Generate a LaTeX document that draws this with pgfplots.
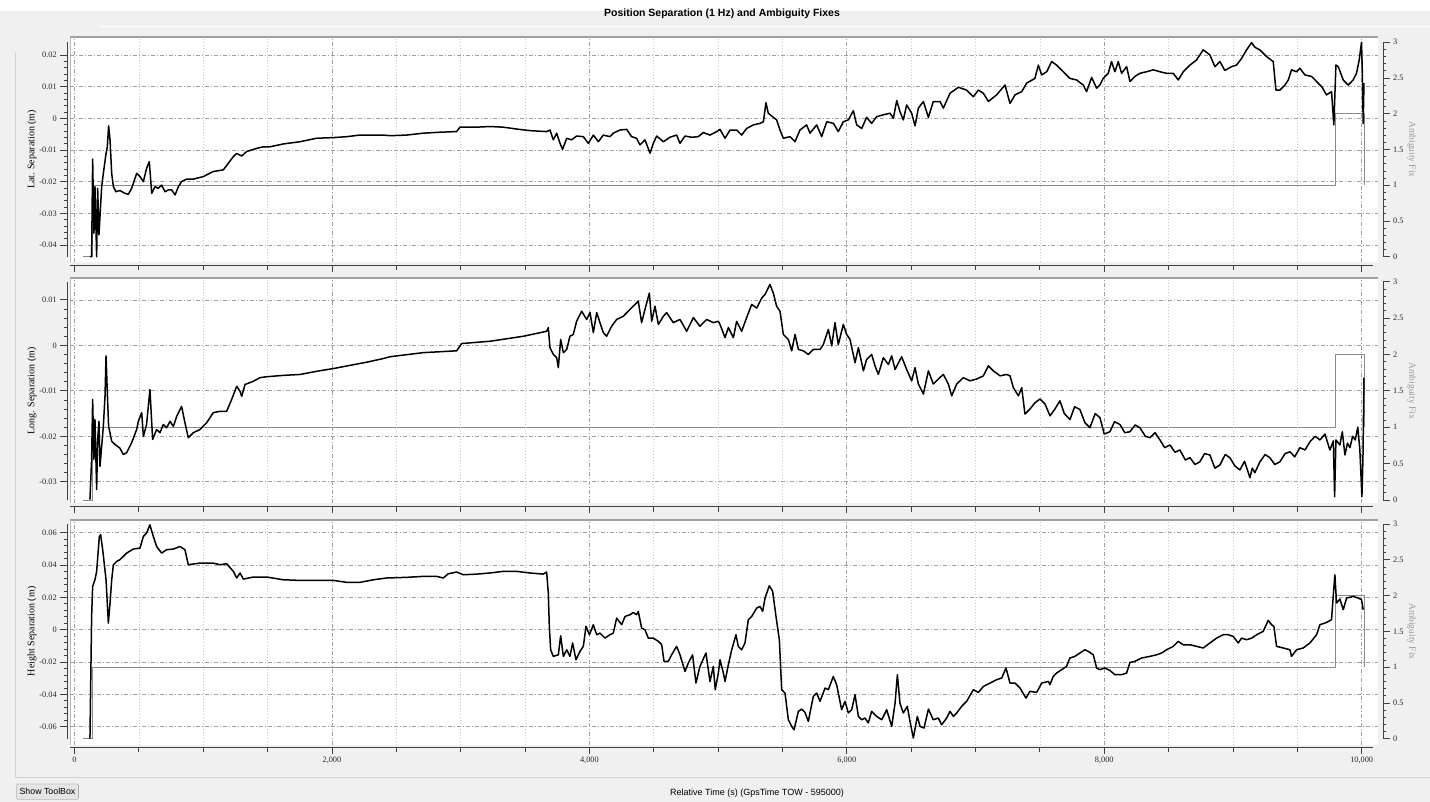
\documentclass[border=0pt]{standalone}
\usepackage{fontspec}
\setmainfont{Liberation Serif}
\newfontfamily\sansf{Liberation Sans}
\usepackage{pgfplots}
\pgfplotsset{compat=1.18}
\definecolor{bg}{HTML}{F0F0F0}
\definecolor{gridc}{HTML}{A0A0A0}
\definecolor{mgridc}{HTML}{C8C8C8}
\definecolor{fixc}{HTML}{8A8A8A}
\definecolor{axc}{HTML}{404040}
\definecolor{framec}{HTML}{A0A0A0}

\pgfplotsset{
  every axis/.append style={scaled ticks=false},
  canvasax/.style={scale only axis, width=1308pt, height=225pt, anchor=south west,
     xmin=-35, xmax=10127,
     axis line style={draw=none}, tick style={draw=none},
     xtick={0,2000,4000,6000,8000,10000}, xticklabels={,,,,,}, minor x tick num=3,
     xmajorgrids, xminorgrids, ymajorgrids,
     major grid style={gridc, line width=0.7pt, dash pattern=on 4pt off 2pt on 1pt off 2pt},
     minor grid style={mgridc, line width=0.7pt, dash pattern=on 1.2pt off 1.8pt}},
  fixax/.style={scale only axis, width=1308pt, height=225pt, anchor=south west,
     xmin=-35, xmax=10127, hide axis},
  lscale/.style={scale only axis, width=1pt, anchor=south west, xmin=0, xmax=1,
     axis y line=left, axis x line=none, xtick=\empty,
     axis line style={-, axc, line width=0.8pt}, tick style={axc, line width=0.8pt},
     tick align=outside, major tick length=6.7pt, minor tick length=3.3pt, minor y tick num=4,
     yticklabel style={font=\fontsize{8.3}{9}\selectfont, text=black!85},
     ylabel style={font=\fontsize{10}{12}\selectfont, at={(axis description cs:-35,0.5)}, anchor=center}},
  rscale/.style={scale only axis, width=1pt, anchor=south east, xmin=0, xmax=1, ymin=0, ymax=3,
     axis y line=right, axis x line=none, xtick=\empty,
     axis line style={-, axc, line width=0.8pt}, tick style={axc, line width=0.8pt},
     tick align=outside, major tick length=6.7pt, minor tick length=3.3pt, minor y tick num=4,
     ytick={0,0.5,1,1.5,2,2.5,3}, yticklabels={0,0.5,1,1.5,2,2.5,3},
     yticklabel style={font=\fontsize{8.3}{9}\selectfont, text=black!85},
     ylabel={Ambiguity Fix},
     ylabel style={font=\fontsize{9.5}{11}\selectfont, text=gray!80, at={(axis description cs:29.7,0.5)}, anchor=center, rotate=180}},
  bscale/.style={scale only axis, width=1303pt, height=1pt, anchor=south west,
     xmin=-35, xmax=10088, ymin=0, ymax=1,
     axis x line=bottom, axis y line=none, ytick=\empty,
     xtick={0,2000,4000,6000,8000,10000}, minor x tick num=3,
     tick align=outside, major tick length=6.7pt, minor tick length=5pt,
     axis line style={-, axc, line width=0.8pt}, tick style={axc, line width=0.8pt},
     xticklabel style={font=\fontsize{8.3}{9}\selectfont, text=black!85}},
  dataline/.style={black, line width=1.5pt, line join=round},
  fixline/.style={fixc, line width=0.9pt},
}

\begin{document}
\begin{tikzpicture}[x=1pt,y=1pt]
\useasboundingbox (0,0) rectangle (1430,802);
\fill[bg] (0,0) rectangle (1430,802);
\fill[white] (0,791) rectangle (1430,802);
\draw[white, line width=1pt] (100,775) -- (1430,775);
\draw[black!18, line width=0.8pt] (15,25) -- (1430,25);
\draw[black!18, line width=0.8pt] (15,25) -- (15,750);
% canvases
\fill[white] (70,540) rectangle (1378,765);
\fill[white] (70,299) rectangle (1378,524);
\fill[white] (70,57) rectangle (1378,282);
\foreach \yb in {540,299,57} {
  \draw[framec, line width=1.6pt] (70,\yb+225) -- (1378,\yb+225);
  \draw[framec!70, line width=0.8pt] (70,\yb) -- (70,\yb+225);
}

% ================= Panel 1: Lat =================
\begin{axis}[fixax, at={(70pt,540pt)}, ymin=-0.0742, ymax=3.0742]
\addplot[fixline] coordinates {(66,0) (136,0) (136,1) (9798,1) (9798,2) (10023,2) (10023,1)};
\end{axis}
\begin{axis}[canvasax, at={(70pt,540pt)}, ymin=-0.04537, ymax=0.02567,
   ytick={-0.04,-0.03,-0.02,-0.01,0,0.01,0.02}, yticklabels={,,,,,,}]
\addplot[dataline] coordinates {
(120,-0.0437) (133,-0.0437) (141,-0.0129) (151,-0.0363) (159,-0.0216) (172,-0.0437) (180,-0.0221)
(190,-0.0368) (198,-0.0310) (211,-0.0216) (224,-0.0174) (245,-0.0111) (255,-0.0090) (265,-0.0024)
(276,-0.0068) (289,-0.0174) (302,-0.0216) (322,-0.0232) (353,-0.0228) (392,-0.0237) (418,-0.0240)
(444,-0.0221) (483,-0.0174) (509,-0.0184) (535,-0.0200) (560,-0.0158) (581,-0.0137) (600,-0.0237)
(625,-0.0216) (651,-0.0221) (677,-0.0211) (703,-0.0232) (729,-0.0226) (755,-0.0226) (781,-0.0242)
(807,-0.0216) (832,-0.0200) (871,-0.0192) (923,-0.0192) (1001,-0.0184) (1078,-0.0168) (1156,-0.0163)
(1195,-0.0142) (1234,-0.0121) (1260,-0.0111) (1299,-0.0119) (1337,-0.0105) (1376,-0.0100) (1415,-0.0095)
(1467,-0.0090) (1519,-0.0090) (1622,-0.0081) (1752,-0.0074) (1881,-0.0063) (2011,-0.0061) (2115,-0.0058)
(2218,-0.0053) (2399,-0.0053) (2451,-0.0055) (2580,-0.0053) (2710,-0.0047) (2839,-0.0044) (2969,-0.0042)
(2995,-0.0028) (3124,-0.0028) (3228,-0.0026) (3331,-0.0028) (3435,-0.0034) (3539,-0.0039) (3668,-0.0042)
(3694,-0.0037) (3720,-0.0068) (3746,-0.0047) (3772,-0.0079) (3792,-0.0098) (3824,-0.0063) (3862,-0.0068)
(3901,-0.0056) (3953,-0.0058) (3992,-0.0079) (4031,-0.0053) (4070,-0.0074) (4108,-0.0053) (4160,-0.0058)
(4186,-0.0047) (4238,-0.0037) (4290,-0.0035) (4328,-0.0058) (4367,-0.0063) (4393,-0.0084) (4432,-0.0068)
(4471,-0.0110) (4497,-0.0079) (4523,-0.0056) (4575,-0.0074) (4626,-0.0060) (4678,-0.0053) (4704,-0.0079)
(4743,-0.0056) (4795,-0.0060) (4846,-0.0058) (4885,-0.0045) (4937,-0.0053) (4989,-0.0042) (5015,-0.0035)
(5054,-0.0063) (5093,-0.0037) (5144,-0.0037) (5183,-0.0053) (5222,-0.0032) (5274,-0.0021) (5326,-0.0016)
(5352,-0.0011) (5372,0.0049) (5390,0.0016) (5429,0.0003) (5455,-0.0005) (5481,-0.0037) (5507,-0.0063)
(5559,-0.0058) (5598,-0.0074) (5636,-0.0037) (5688,-0.0021) (5714,-0.0047) (5766,-0.0021) (5805,-0.0058)
(5844,-0.0011) (5896,-0.0016) (5934,-0.0042) (5973,-0.0011) (6012,-0.0005) (6051,0.0024) (6077,-0.0021)
(6116,-0.0032) (6154,0.0003) (6193,-0.0016) (6232,0.0005) (6284,0.0011) (6336,0.0016) (6362,0.0000)
(6388,0.0056) (6413,0.0021) (6439,-0.0005) (6465,0.0042) (6504,0.0016) (6530,-0.0024) (6556,0.0032)
(6595,0.0053) (6634,0.0003) (6672,0.0053) (6724,0.0053) (6750,0.0032) (6802,0.0079) (6867,0.0098)
(6931,0.0089) (6983,0.0068) (7022,0.0089) (7061,0.0079) (7100,0.0053) (7164,0.0074) (7229,0.0105)
(7268,0.0047) (7307,0.0074) (7359,0.0084) (7397,0.0111) (7462,0.0126) (7488,0.0168) (7514,0.0137)
(7553,0.0147) (7592,0.0179) (7630,0.0168) (7682,0.0147) (7733,0.0126) (7785,0.0121) (7837,0.0105)
(7863,0.0084) (7902,0.0129) (7941,0.0095) (7966,0.0105) (7992,0.0126) (8031,0.0142) (8057,0.0179)
(8083,0.0147) (8109,0.0179) (8135,0.0142) (8174,0.0163) (8200,0.0116) (8238,0.0132) (8277,0.0142)
(8329,0.0147) (8381,0.0153) (8433,0.0147) (8484,0.0142) (8536,0.0142) (8575,0.0121) (8614,0.0147)
(8666,0.0168) (8717,0.0184) (8769,0.0216) (8821,0.0200) (8860,0.0163) (8899,0.0179) (8937,0.0151)
(8989,0.0163) (9028,0.0168) (9067,0.0189) (9106,0.0216) (9145,0.0239) (9171,0.0224) (9209,0.0216)
(9261,0.0195) (9313,0.0179) (9334,0.0089) (9365,0.0089) (9404,0.0105) (9430,0.0121) (9455,0.0153)
(9494,0.0147) (9520,0.0158) (9559,0.0137) (9611,0.0132) (9650,0.0116) (9689,0.0100) (9727,0.0074)
(9766,0.0084) (9784,-0.0021) (9800,0.0168) (9818,0.0163) (9857,0.0121) (9896,0.0105) (9934,0.0121)
(9960,0.0142) (9981,0.0184) (9999,0.0240) (10005,0.0150) (10012,-0.0016) (10018,0.0111)
};
\end{axis}
\begin{axis}[lscale, at={(67pt,545.3pt)}, height=214.4pt, ymin=-0.0437, ymax=0.024,
   ytick={-0.04,-0.03,-0.02,-0.01,0,0.01,0.02}, yticklabels={-0.04,-0.03,-0.02,-0.01,0,0.01,0.02},
   ylabel={Lat. Separation (m)}]
\end{axis}
\begin{axis}[rscale, at={(1383pt,545.3pt)}, height=214.4pt]
\end{axis}
\begin{axis}[bscale, at={(70pt,537pt)}, xticklabels={,,,,,}]
\end{axis}

% ================= Panel 2: Long =================
\begin{axis}[fixax, at={(70pt,299pt)}, ymin=-0.0412, ymax=3.0508]
\addplot[fixline] coordinates {(66,0) (136,0) (136,1) (9798,1) (9798,2) (10023,2) (10023,1)};
\end{axis}
\begin{axis}[canvasax, at={(70pt,299pt)}, ymin=-0.03466, ymax=0.014814,
   ytick={-0.03,-0.02,-0.01,0,0.01}, yticklabels={,,,,}]
\addplot[dataline] coordinates {
(120,-0.0339) (133,-0.0251) (141,-0.0119) (151,-0.0251) (159,-0.0163) (172,-0.0317) (180,-0.0207)
(190,-0.0167) (198,-0.0266) (211,-0.0222) (224,-0.0178) (237,-0.0112) (245,-0.0023) (255,-0.0104)
(265,-0.0178) (289,-0.0211) (315,-0.0218) (353,-0.0226) (379,-0.0240) (405,-0.0236) (444,-0.0214)
(483,-0.0185) (496,-0.0167) (522,-0.0148) (535,-0.0200) (560,-0.0174) (586,-0.0097) (607,-0.0207)
(638,-0.0185) (664,-0.0192) (690,-0.0174) (716,-0.0181) (742,-0.0167) (768,-0.0178) (794,-0.0156)
(832,-0.0134) (858,-0.0170) (884,-0.0203) (923,-0.0192) (975,-0.0185) (1027,-0.0170) (1078,-0.0148)
(1130,-0.0145) (1182,-0.0145) (1221,-0.0119) (1260,-0.0090) (1286,-0.0101) (1299,-0.0112) (1325,-0.0086)
(1389,-0.0079) (1441,-0.0071) (1493,-0.0069) (1622,-0.0066) (1752,-0.0064) (1881,-0.0057) (2011,-0.0051)
(2140,-0.0044) (2270,-0.0037) (2399,-0.0029) (2451,-0.0025) (2710,-0.0016) (2969,-0.0012) (3008,0.0004)
(3228,0.0009) (3487,0.0020) (3668,0.0031) (3681,0.0039) (3694,-0.0005) (3720,-0.0020) (3746,-0.0027)
(3759,-0.0049) (3777,0.0013) (3798,-0.0016) (3824,-0.0009) (3849,0.0020) (3875,0.0024) (3901,0.0053)
(3940,0.0075) (3979,0.0057) (4005,0.0072) (4031,0.0028) (4057,0.0072) (4108,0.0028) (4134,0.0020)
(4173,0.0042) (4212,0.0057) (4264,0.0064) (4315,0.0079) (4380,0.0097) (4406,0.0050) (4432,0.0079)
(4466,0.0115) (4484,0.0053) (4510,0.0086) (4536,0.0046) (4575,0.0064) (4600,0.0072) (4652,0.0050)
(4704,0.0057) (4756,0.0031) (4808,0.0061) (4859,0.0042) (4911,0.0057) (4963,0.0050) (5002,0.0053)
(5015,0.0046) (5054,0.0017) (5080,0.0039) (5119,0.0017) (5144,0.0053) (5183,0.0031) (5222,0.0061)
(5261,0.0090) (5300,0.0082) (5339,0.0104) (5365,0.0112) (5403,0.0134) (5429,0.0115) (5455,0.0086)
(5481,0.0075) (5507,0.0024) (5546,0.0013) (5572,-0.0012) (5598,0.0024) (5624,-0.0009) (5662,-0.0012)
(5701,-0.0020) (5740,-0.0009) (5792,-0.0009) (5818,0.0002) (5857,0.0035) (5883,-0.0001) (5908,0.0050)
(5934,0.0002) (5973,0.0046) (5999,0.0024) (6025,0.0013) (6064,-0.0038) (6090,-0.0005) (6129,-0.0056)
(6154,-0.0031) (6193,-0.0020) (6219,-0.0045) (6245,-0.0064) (6284,-0.0027) (6323,-0.0042) (6349,-0.0023)
(6375,-0.0053) (6426,-0.0025) (6465,-0.0053) (6504,-0.0078) (6530,-0.0049) (6556,-0.0085) (6595,-0.0107)
(6634,-0.0056) (6672,-0.0085) (6711,-0.0074) (6750,-0.0064) (6789,-0.0085) (6815,-0.0111) (6854,-0.0085)
(6905,-0.0071) (6957,-0.0078) (7009,-0.0074) (7061,-0.0067) (7100,-0.0045) (7138,-0.0056) (7190,-0.0067)
(7242,-0.0064) (7268,-0.0067) (7294,-0.0093) (7333,-0.0111) (7359,-0.0093) (7384,-0.0151) (7423,-0.0140)
(7462,-0.0126) (7501,-0.0118) (7540,-0.0129) (7579,-0.0155) (7617,-0.0140) (7656,-0.0122) (7690,-0.0150)
(7734,-0.0163) (7770,-0.0135) (7811,-0.0141) (7850,-0.0170) (7889,-0.0181) (7930,-0.0150) (7967,-0.0159)
(8000,-0.0195) (8044,-0.0190) (8080,-0.0168) (8122,-0.0174) (8160,-0.0192) (8200,-0.0190) (8240,-0.0175)
(8277,-0.0181) (8320,-0.0200) (8355,-0.0203) (8395,-0.0192) (8433,-0.0208) (8470,-0.0225) (8510,-0.0219)
(8550,-0.0235) (8588,-0.0230) (8630,-0.0252) (8666,-0.0247) (8705,-0.0262) (8743,-0.0256) (8780,-0.0238)
(8821,-0.0241) (8860,-0.0270) (8899,-0.0263) (8940,-0.0240) (8976,-0.0247) (9015,-0.0265) (9054,-0.0274)
(9090,-0.0255) (9132,-0.0291) (9150,-0.0270) (9170,-0.0280) (9210,-0.0256) (9250,-0.0240) (9287,-0.0247)
(9325,-0.0262) (9365,-0.0256) (9405,-0.0238) (9443,-0.0234) (9480,-0.0245) (9520,-0.0225) (9560,-0.0230)
(9598,-0.0212) (9640,-0.0200) (9676,-0.0208) (9715,-0.0195) (9753,-0.0230) (9780,-0.0210) (9790,-0.0333)
(9800,-0.0208) (9831,-0.0219) (9850,-0.0190) (9870,-0.0241) (9890,-0.0215) (9909,-0.0225) (9930,-0.0200)
(9950,-0.0208) (9970,-0.0180) (9986,-0.0230) (10002,-0.0333) (10010,-0.0250) (10018,-0.0071)
};
\end{axis}
\begin{axis}[lscale, at={(67pt,302pt)}, height=218.3pt, ymin=-0.034, ymax=0.014,
   ytick={-0.03,-0.02,-0.01,0,0.01}, yticklabels={-0.03,-0.02,-0.01,0,0.01},
   ylabel={Long. Separation (m)}]
\end{axis}
\begin{axis}[rscale, at={(1383pt,302pt)}, height=218.3pt]
\end{axis}
\begin{axis}[bscale, at={(70pt,295.3pt)}, xticklabels={,,,,,}]
\end{axis}

% ================= Panel 3: Height =================
\begin{axis}[fixax, at={(70pt,57pt)}, ymin=-0.0880, ymax=3.0559]
\addplot[fixline] coordinates {(66,0) (136,0) (136,1) (9798,1) (9798,2) (10023,2) (10023,1)};
\end{axis}
\begin{axis}[canvasax, at={(70pt,57pt)}, ymin=-0.0713, ymax=0.06787,
   ytick={-0.06,-0.04,-0.02,0,0.02,0.04,0.06}, yticklabels={,,,,,,}]
\addplot[dataline] coordinates {
(120,-0.0674) (133,0.0082) (141,0.0268) (159,0.0309) (172,0.0361) (193,0.0577) (203,0.0588) (219,0.0495)
(245,0.0309) (263,0.0041) (276,0.0165) (289,0.0309) (302,0.0402) (328,0.0423) (353,0.0433) (405,0.0474)
(457,0.0499) (509,0.0505) (535,0.0577) (560,0.0598) (586,0.0649) (612,0.0577) (638,0.0515) (677,0.0474)
(716,0.0495) (768,0.0499) (820,0.0515) (858,0.0495) (884,0.0402) (975,0.0412) (1078,0.0412) (1130,0.0402)
(1182,0.0408) (1234,0.0361) (1260,0.0320) (1286,0.0351) (1312,0.0313) (1389,0.0326) (1493,0.0326)
(1622,0.0309) (1752,0.0305) (1881,0.0305) (2011,0.0305) (2115,0.0293) (2218,0.0293) (2322,0.0309)
(2425,0.0320) (2580,0.0324) (2710,0.0330) (2814,0.0330) (2865,0.0320) (2904,0.0346) (2969,0.0357)
(3021,0.0340) (3124,0.0344) (3228,0.0351) (3331,0.0361) (3435,0.0361) (3539,0.0351) (3642,0.0344)
(3668,0.0357) (3681,0.0227) (3689,0.0021) (3699,-0.0124) (3720,-0.0165) (3759,-0.0155) (3777,-0.0037)
(3798,-0.0165) (3824,-0.0124) (3849,-0.0165) (3870,-0.0082) (3896,-0.0186) (3927,-0.0134) (3953,-0.0103)
(3974,0.0021) (4000,-0.0031) (4031,0.0031) (4057,-0.0031) (4083,-0.0021) (4121,-0.0052) (4160,-0.0031)
(4186,-0.0021) (4212,0.0072) (4251,0.0031) (4277,0.0082) (4316,0.0093) (4341,0.0107) (4367,0.0093)
(4380,0.0113) (4406,0.0010) (4432,0.0000) (4458,-0.0052) (4497,-0.0052) (4536,-0.0072) (4562,-0.0093)
(4580,-0.0196) (4613,-0.0196) (4639,-0.0155) (4678,-0.0103) (4704,-0.0155) (4743,-0.0258) (4769,-0.0206)
(4802,-0.0155) (4828,-0.0330) (4859,-0.0227) (4906,-0.0144) (4937,-0.0320) (4963,-0.0227) (4978,-0.0371)
(5002,-0.0268) (5015,-0.0186) (5041,-0.0268) (5054,-0.0320) (5080,-0.0216) (5106,-0.0124) (5139,-0.0031)
(5157,-0.0103) (5183,-0.0124) (5209,-0.0082) (5235,0.0062) (5261,0.0082) (5300,0.0134) (5326,0.0144)
(5346,0.0113) (5365,0.0196) (5398,0.0272) (5424,0.0237) (5450,0.0082) (5476,-0.0062) (5494,-0.0371)
(5520,-0.0392) (5546,-0.0557) (5572,-0.0598) (5590,-0.0619) (5624,-0.0505) (5649,-0.0491) (5675,-0.0511)
(5701,-0.0567) (5740,-0.0412) (5766,-0.0392) (5792,-0.0443) (5831,-0.0361) (5857,-0.0371) (5895,-0.0289)
(5921,-0.0340) (5960,-0.0495) (5986,-0.0443) (6012,-0.0515) (6038,-0.0495) (6064,-0.0402) (6090,-0.0536)
(6116,-0.0557) (6141,-0.0546) (6167,-0.0577) (6193,-0.0505) (6232,-0.0536) (6271,-0.0557) (6310,-0.0495)
(6349,-0.0598) (6375,-0.0454) (6393,-0.0278) (6413,-0.0454) (6439,-0.0515) (6470,-0.0474) (6491,-0.0567)
(6517,-0.0670) (6548,-0.0536) (6569,-0.0598) (6600,-0.0608) (6634,-0.0491) (6672,-0.0557) (6711,-0.0546)
(6737,-0.0588) (6776,-0.0546) (6802,-0.0505) (6828,-0.0536) (6854,-0.0515) (6892,-0.0474) (6931,-0.0443)
(6983,-0.0371) (7022,-0.0388) (7061,-0.0351) (7113,-0.0330) (7164,-0.0309) (7203,-0.0299) (7237,-0.0237)
(7268,-0.0330) (7307,-0.0330) (7346,-0.0361) (7392,-0.0423) (7423,-0.0381) (7475,-0.0388) (7514,-0.0330)
(7566,-0.0320) (7578,-0.0340) (7604,-0.0289) (7630,-0.0268) (7669,-0.0247) (7707,-0.0227) (7733,-0.0175)
(7772,-0.0165) (7811,-0.0144) (7850,-0.0124) (7876,-0.0134) (7915,-0.0155) (7941,-0.0237) (7966,-0.0247)
(8005,-0.0237) (8044,-0.0252) (8083,-0.0278) (8135,-0.0278) (8174,-0.0268) (8200,-0.0202) (8238,-0.0196)
(8290,-0.0175) (8355,-0.0165) (8407,-0.0155) (8446,-0.0144) (8484,-0.0124) (8536,-0.0103) (8575,-0.0072)
(8614,-0.0093) (8666,-0.0093) (8717,-0.0103) (8769,-0.0113) (8821,-0.0082) (8873,-0.0052) (8924,-0.0031)
(8963,-0.0031) (9002,-0.0041) (9041,-0.0082) (9067,-0.0052) (9106,-0.0062) (9145,-0.0052) (9184,-0.0031)
(9235,-0.0010) (9274,0.0058) (9300,0.0031) (9318,0.0021) (9339,-0.0103) (9391,-0.0113) (9443,-0.0124)
(9455,-0.0165) (9494,-0.0124) (9546,-0.0113) (9598,-0.0082) (9650,-0.0031) (9676,0.0031) (9727,0.0045)
(9766,0.0062) (9779,0.0206) (9792,0.0340) (9805,0.0165) (9831,0.0190) (9857,0.0124) (9883,0.0196)
(9934,0.0206) (9973,0.0196) (9999,0.0186) (10012,0.0124)
};
\end{axis}
\begin{axis}[lscale, at={(67pt,63.3pt)}, height=214.7pt, ymin=-0.0674, ymax=0.0654,
   ytick={-0.06,-0.04,-0.02,0,0.02,0.04,0.06}, yticklabels={-0.06,-0.04,-0.02,0,0.02,0.04,0.06},
   ylabel={Height Separation (m)}]
\end{axis}
\begin{axis}[rscale, at={(1383pt,63.3pt)}, height=214.7pt]
\end{axis}
\begin{axis}[bscale, at={(70pt,55pt)}, xticklabels={0,{2,000},{4,000},{6,000},{8,000},{10,000}}]
\end{axis}

% ================= texts =================
\node[font=\sansf\bfseries\fontsize{10.5}{12}\selectfont] at (722,788) {Position Separation (1 Hz) and Ambiguity Fixes};
\node[font=\sansf\fontsize{9}{11}\selectfont] at (757,9.3) {Relative Time (s) (GpsTime TOW - 595000)};
\draw[black!45, fill=black!10, rounded corners=1pt] (16.7,2.7) rectangle (78.3,18);
\node[font=\sansf\fontsize{8.8}{10}\selectfont] at (47.5,10.3) {Show ToolBox};
\end{tikzpicture}
\end{document}
